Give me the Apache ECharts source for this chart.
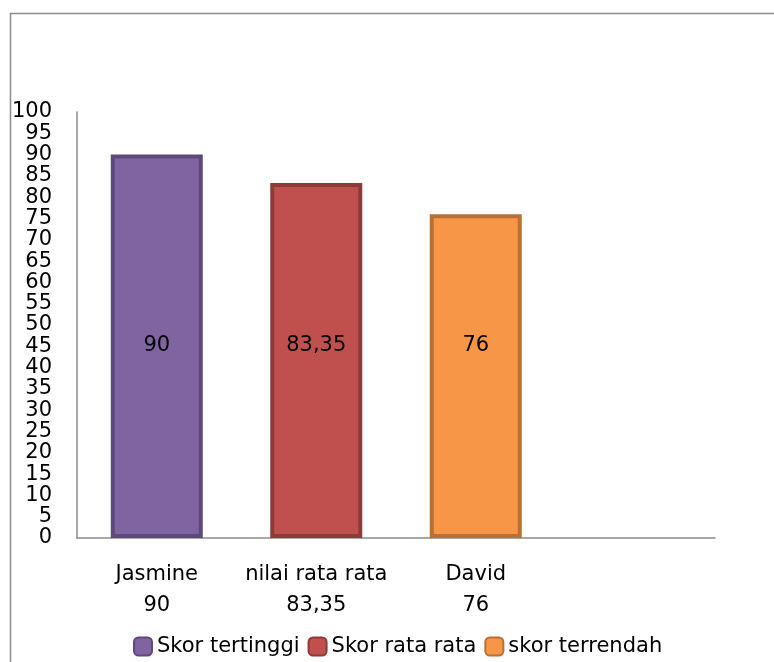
<!DOCTYPE html>
<html>
<head>
<meta charset="utf-8">
<script src="https://cdn.jsdelivr.net/npm/echarts@6/dist/echarts.min.js"></script>
<style>
html,body{margin:0;padding:0;background:#fff;}
#chart{width:774px;height:662px;}
</style>
</head>
<body>
<div id="chart"></div>
<script>
const categoryNames = ['Jasmine', 'nilai rata rata', 'David', ''];
const categoryValueLabels = ['90', '83,35', '76', ''];
const seriesNames = ['Skor tertinggi', 'Skor rata rata', 'skor terrendah'];
const skorTertinggi = [90, null, null, null];
const skorRataRata = [null, 83.35, null, null];
const skorTerrendah = [null, null, 76, null];
const yTicks = { min: 0, max: 100, interval: 5 };

const FONT = 'DejaVu Sans';
const FS = 21;
const categories = categoryNames.map((n, i) => categoryValueLabels[i] ? n + '\n' + categoryValueLabels[i] : '');

const fills = ['#8064A2', '#C0504D', '#F79646'];
const borders = ['#5E4A7A', '#8E3A38', '#B87035'];
const dataSets = [skorTertinggi, skorRataRata, skorTerrendah];

const chart = echarts.init(document.getElementById('chart'), null, { renderer: 'canvas' });
chart.setOption({
  animation: false,
  backgroundColor: '#fff',
  textStyle: { fontFamily: FONT },
  graphic: [{
    type: 'rect', left: 8, top: 11,
    shape: { width: 820, height: 720 },
    style: { fill: 'none', stroke: '#8c8c8c', lineWidth: 1.5 },
    silent: true, z: -1
  }],
  grid: { left: 77, right: 59, top: 112, bottom: 124, containLabel: false },
  legend: {
    left: 128, top: 631,
    itemWidth: 18, itemHeight: 18, itemGap: 8,
    textStyle: { fontFamily: FONT, fontSize: FS, color: '#000' },
    data: seriesNames
  },
  xAxis: {
    type: 'category',
    data: categories,
    axisLine: { show: true, lineStyle: { color: '#8c8c8c', width: 1.5 } },
    axisTick: { show: false },
    axisLabel: { color: '#000', fontFamily: FONT, fontSize: FS, lineHeight: 31, margin: 21, interval: 0 }
  },
  yAxis: {
    type: 'value',
    min: yTicks.min, max: yTicks.max, interval: yTicks.interval,
    axisLine: { show: true, lineStyle: { color: '#8c8c8c', width: 1.5 } },
    axisTick: { show: false },
    splitLine: { show: false },
    axisLabel: { color: '#000', fontFamily: FONT, fontSize: FS, margin: 25, padding: [5, 0, 0, 0] }
  },
  series: seriesNames.map((name, i) => ({
    name: name,
    type: 'bar',
    stack: 'all',
    barWidth: 92,
    data: dataSets[i],
    itemStyle: { color: fills[i], borderColor: borders[i], borderWidth: 4 },
    label: {
      show: true,
      position: 'insideBottom',
      distance: 182,
      color: '#000',
      fontFamily: FONT,
      fontSize: FS,
      formatter: p => (p.value == null ? '' : String(p.value).replace('.', ','))
    }
  }))
});
</script>
</body>
</html>
